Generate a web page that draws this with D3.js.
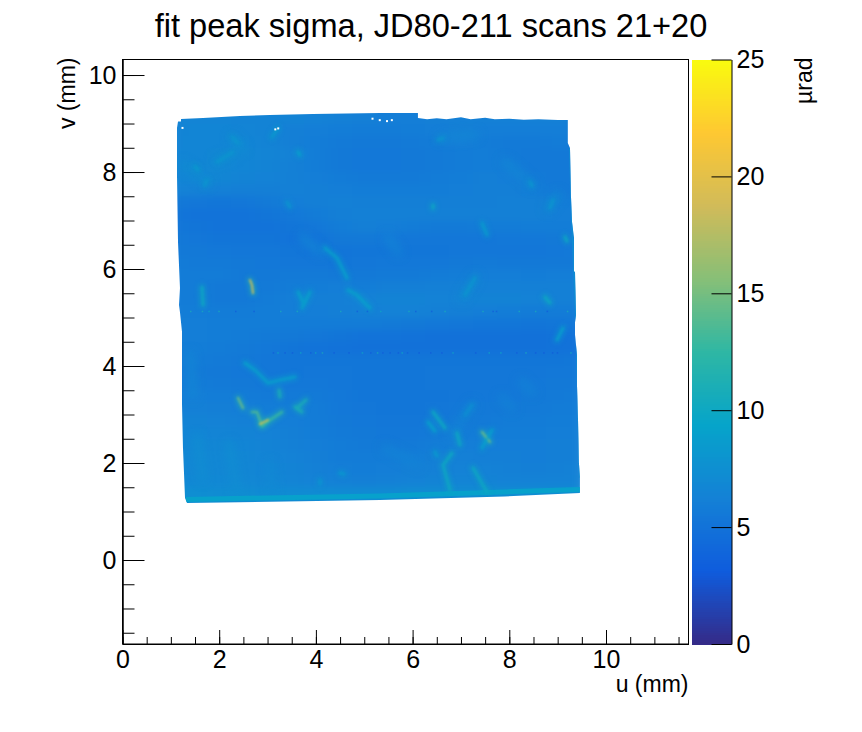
<!DOCTYPE html>
<html>
<head>
<meta charset="utf-8">
<script src="https://cdn.jsdelivr.net/npm/d3@7"></script>
<style>
  html, body { margin: 0; background: #fff; }
  text { font-family: "Liberation Sans", Arial, sans-serif; fill: #000; }
  .tick text { font-size: 25px; }
</style>
</head>
<body>
<div id="chart"></div>
<script>
// background level of the map in urad, one row per v, one column per u
const gridU = [1, 1.5, 2, 2.5, 3, 3.5, 4, 4.5, 5, 5.5, 6, 6.5, 7, 7.5, 8, 8.5, 9, 9.5];
const gridV = [9.375, 9.125, 8.875, 8.625, 8.375, 8.125, 7.875, 7.625, 7.375, 7.125, 6.875, 6.625, 6.375, 6.125, 5.875, 5.625, 5.375, 5.125, 4.875, 4.625, 4.375, 4.125, 3.875, 3.625, 3.375, 3.125, 2.875, 2.625, 2.375, 2.125, 1.875, 1.625, 1.375, 1.125];
const gridValues = [
  [6.4, 6.4, 6.4, 6.3, 6.3, 6.3, 6.2, 6.2, 6.2, 6.1, 6.1, 6.1, 6.1, 6.1, 6.1, 6.1, 6.1, 6.1],
  [6.4, 6.5, 6.5, 6.4, 6.4, 6.4, 6.3, 6.2, 6.1, 6.0, 6.0, 6.1, 6.2, 6.2, 6.2, 6.2, 6.2, 6.2],
  [6.4, 6.6, 6.6, 6.5, 6.4, 6.1, 6.0, 5.9, 5.8, 5.8, 5.9, 6.0, 6.1, 6.0, 6.0, 6.0, 6.0, 6.0],
  [6.5, 6.6, 6.6, 6.6, 6.4, 6.1, 5.9, 5.7, 5.6, 5.6, 5.7, 5.8, 6.0, 5.8, 5.7, 5.7, 5.8, 5.8],
  [6.6, 6.6, 6.7, 6.7, 6.5, 6.3, 5.9, 5.6, 5.5, 5.5, 5.6, 5.7, 5.8, 5.9, 5.7, 5.6, 5.6, 5.6],
  [6.6, 6.7, 6.8, 6.6, 6.4, 6.2, 5.9, 5.6, 5.5, 5.5, 5.6, 5.7, 5.8, 5.9, 5.8, 5.6, 5.6, 5.7],
  [6.6, 6.6, 6.7, 6.4, 6.3, 6.2, 6.0, 5.8, 5.7, 5.7, 5.7, 5.8, 5.9, 6.1, 6.0, 5.7, 5.6, 5.7],
  [6.3, 6.3, 6.2, 6.1, 6.1, 6.2, 6.1, 6.0, 5.9, 5.9, 5.9, 5.9, 6.0, 6.1, 6.1, 5.9, 5.6, 5.7],
  [5.6, 5.4, 5.3, 5.4, 5.7, 6.0, 6.1, 6.2, 6.1, 6.1, 6.1, 6.1, 6.1, 6.1, 6.2, 6.2, 5.8, 5.8],
  [5.3, 5.1, 5.1, 5.1, 5.2, 5.5, 5.8, 6.1, 6.2, 6.2, 6.2, 6.2, 6.2, 6.2, 6.2, 6.2, 6.0, 6.0],
  [5.4, 5.2, 5.1, 5.1, 5.1, 5.2, 5.4, 5.9, 6.1, 6.0, 5.8, 5.7, 5.7, 5.8, 5.8, 5.9, 5.9, 5.9],
  [5.6, 5.4, 5.2, 5.2, 5.2, 5.1, 5.1, 5.6, 5.6, 5.5, 5.4, 5.4, 5.4, 5.4, 5.5, 5.5, 5.6, 5.8],
  [5.7, 5.6, 5.5, 5.4, 5.4, 5.3, 5.1, 5.2, 5.3, 5.3, 5.3, 5.3, 5.4, 5.4, 5.4, 5.4, 5.5, 5.7],
  [5.8, 5.7, 5.7, 5.6, 5.5, 5.4, 5.4, 5.3, 5.4, 5.5, 5.5, 5.5, 5.6, 5.7, 5.6, 5.6, 5.6, 5.7],
  [5.9, 5.8, 5.8, 5.6, 5.6, 5.7, 5.7, 5.6, 5.6, 5.7, 5.7, 5.8, 5.9, 6.0, 6.0, 5.9, 6.0, 6.1],
  [5.9, 5.8, 5.6, 5.6, 5.7, 5.8, 5.9, 6.0, 5.9, 6.1, 6.1, 6.2, 6.2, 6.2, 6.2, 6.2, 6.2, 6.2],
  [5.9, 5.8, 5.6, 5.6, 5.8, 6.0, 6.1, 6.1, 6.3, 6.4, 6.4, 6.3, 6.3, 6.4, 6.4, 6.3, 6.2, 6.2],
  [6.0, 5.9, 5.8, 5.8, 5.9, 6.0, 6.0, 6.1, 6.2, 6.3, 6.3, 6.2, 6.1, 6.0, 5.9, 5.8, 5.8, 5.9],
  [6.0, 6.0, 5.9, 5.9, 5.9, 5.8, 5.8, 5.8, 5.8, 5.7, 5.6, 5.5, 5.4, 5.3, 5.3, 5.2, 5.3, 5.5],
  [6.0, 6.0, 5.9, 5.8, 5.7, 5.6, 5.4, 5.2, 5.1, 5.1, 5.0, 4.9, 4.9, 4.9, 4.9, 4.9, 5.0, 5.1],
  [5.9, 5.9, 5.8, 5.7, 5.5, 5.2, 5.1, 5.0, 4.9, 4.9, 4.9, 4.9, 4.9, 4.9, 4.9, 4.9, 5.0, 5.1],
  [5.8, 5.8, 5.7, 5.6, 5.4, 5.3, 5.3, 5.3, 5.3, 5.3, 5.3, 5.3, 5.3, 5.3, 5.3, 5.3, 5.3, 5.5],
  [5.8, 5.7, 5.6, 5.5, 5.4, 5.3, 5.4, 5.4, 5.3, 5.3, 5.3, 5.4, 5.4, 5.4, 5.4, 5.4, 5.5, 5.6],
  [5.9, 5.8, 5.7, 5.6, 5.5, 5.5, 5.5, 5.4, 5.3, 5.3, 5.3, 5.4, 5.4, 5.4, 5.4, 5.5, 5.6, 5.7],
  [6.0, 6.0, 5.9, 5.8, 5.7, 5.7, 5.7, 5.5, 5.3, 5.3, 5.3, 5.3, 5.4, 5.5, 5.5, 5.6, 5.7, 5.8],
  [6.2, 6.2, 6.1, 6.0, 5.9, 5.8, 5.8, 5.5, 5.4, 5.3, 5.3, 5.4, 5.5, 5.6, 5.6, 5.7, 5.8, 5.9],
  [6.4, 6.4, 6.3, 6.2, 6.1, 6.0, 5.8, 5.6, 5.5, 5.4, 5.4, 5.5, 5.6, 5.7, 5.8, 5.8, 5.9, 6.0],
  [6.6, 6.6, 6.5, 6.4, 6.3, 6.1, 5.9, 5.7, 5.6, 5.5, 5.5, 5.7, 5.8, 5.8, 5.9, 5.9, 6.0, 6.1],
  [6.7, 6.7, 6.7, 6.6, 6.4, 6.2, 6.0, 5.8, 5.7, 5.6, 5.7, 5.9, 6.0, 6.0, 6.0, 6.0, 6.1, 6.1],
  [6.8, 6.8, 6.8, 6.7, 6.5, 6.3, 6.1, 5.8, 5.8, 5.8, 5.9, 6.1, 6.2, 6.1, 6.1, 6.0, 6.1, 6.2],
  [6.8, 6.8, 6.8, 6.7, 6.6, 6.4, 6.2, 6.0, 5.9, 6.0, 6.1, 6.2, 6.3, 6.3, 6.2, 6.1, 6.2, 6.3],
  [6.9, 6.9, 6.9, 6.8, 6.7, 6.5, 6.3, 6.2, 6.1, 6.2, 6.3, 6.4, 6.5, 6.4, 6.3, 6.3, 6.3, 6.4],
  [7.4, 7.4, 7.2, 7.2, 7.1, 7.1, 7.1, 7.1, 7.1, 7.1, 7.2, 7.2, 7.2, 7.2, 7.2, 7.2, 7.2, 7.2],
  [7.4, 7.4, 7.2, 7.2, 7.1, 7.1, 7.1, 7.1, 7.1, 7.1, 7.2, 7.2, 7.2, 7.2, 7.2, 7.2, 7.2, 7.2]
];

// edge of the scanned area as [u, v]
const outline = [
  [1.148, 9.04], [1.21, 9.04], [1.21, 9.093], [1.665, 9.113], [2.43, 9.155], [3.05, 9.175], [3.94, 9.196], [5.326, 9.216], [6.11, 9.216],
  [6.11, 9.113], [6.3, 9.09], [6.5, 9.11], [6.7, 9.09], [7.0, 9.13], [7.2, 9.09], [7.5, 9.12], [7.7, 9.09], [8.0, 9.10], [8.3, 9.08], [8.6, 9.09], [9.0, 9.07], [9.21, 9.072],
  [9.21, 8.6], [9.255, 8.495], [9.275, 7.5], [9.297, 6.969], [9.338, 6.639], [9.338, 5.95], [9.359, 5.938], [9.38, 5.052],
  [9.359, 4.9], [9.359, 4.639], [9.40, 4.227], [9.40, 3.6], [9.42, 2.928], [9.44, 2.0], [9.46, 1.7], [9.46, 1.38], [7.9, 1.309], [5.326, 1.237], [1.334, 1.175],
  [1.293, 1.278], [1.251, 2.309], [1.231, 3.196], [1.231, 4.70], [1.19, 5.1], [1.169, 5.258], [1.189, 5.608], [1.148, 6.557], [1.127, 7.938], [1.127, 8.907]
];

// narrow bright ridges: points as [u, v] and the level along them
const ridgePoints = [
  [[2.265, 8.722], [2.389, 8.598]],
  [[2.285, 8.412], [1.954, 8.206]],
  [[1.5, 8.113], [1.56, 8.05]],
  [[1.748, 7.835], [1.7, 7.72]],
  [[3.216, 8.907], [3.092, 8.722]],
  [[3.63, 8.412], [3.671, 8.351]],
  [[2.637, 5.773], [2.678, 5.67], [2.699, 5.505]],
  [[1.644, 5.629], [1.665, 5.258]],
  [[4.188, 6.433], [4.436, 6.227], [4.643, 5.814]],
  [[3.63, 5.526], [3.733, 5.32]],
  [[3.878, 5.526], [3.712, 5.196]],
  [[4.664, 5.567], [4.85, 5.464], [5.119, 5.196]],
  [[3.402, 7.381], [3.464, 7.278]],
  [[6.422, 7.32], [6.422, 7.258]],
  [[7.435, 6.948], [7.539, 6.701]],
  [[8.904, 7.423], [8.841, 7.258]],
  [[8.428, 7.794], [8.47, 7.711]],
  [[9.152, 6.66], [9.193, 6.577]],
  [[8.738, 5.423], [8.841, 5.299]],
  [[7.29, 5.814], [7.084, 5.464]],
  [[6.629, 8.701], [6.525, 8.66]],
  [[2.534, 4.062], [2.74, 3.918], [3.009, 3.649], [3.257, 3.711], [3.568, 3.773]],
  [[3.237, 3.505], [3.257, 3.361]],
  [[2.389, 3.34], [2.492, 3.134]],
  [[2.678, 3.052], [2.782, 3.052], [2.885, 2.763]],
  [[2.885, 2.763], [3.051, 2.887], [3.299, 3.052]],
  [[2.844, 2.804], [3.01, 2.887]],
  [[3.568, 3.155], [3.712, 3.052]],
  [[3.795, 3.299], [3.63, 3.155]],
  [[4.498, 1.794], [4.581, 1.773]],
  [[4.085, 1.649], [4.085, 1.567]],
  [[6.422, 3.052], [6.67, 2.722]],
  [[6.318, 2.845], [6.463, 2.66]],
  [[6.918, 2.619], [6.98, 2.371]],
  [[7.435, 2.639], [7.6, 2.433]],
  [[7.642, 2.68], [7.435, 2.309]],
  [[6.815, 2.206], [6.629, 1.959], [6.774, 1.443]],
  [[7.25, 1.897], [7.539, 1.402]],
  [[7.229, 3.196], [7.084, 2.99]],
  [[6.463, 2.227], [6.505, 2.144]],
  [[9.11, 4.784], [8.986, 4.536]]
];
const ridgeLevels = [8, 8, 8.5, 8, 8.5, 9, 20, 10, 9, 9, 9, 9, 8, 10, 8.5, 8, 8, 10, 10, 8, 8, 9, 11, 15, 14, 13, 20, 11, 11, 8.5, 8, 10, 9, 10, 15, 9, 10, 10, 7.5, 8.5, 9];

// broad faint patches over the background
const faintPoints = [
  [[1.251, 8.144], [1.748, 7.794]],
  [[1.954, 8.247], [2.285, 8.351]],
  [[2.285, 8.701], [2.472, 8.495]],
  [[3.733, 6.639], [4.085, 6.351]],
  [[1.396, 4.227], [1.458, 3.402]],
  [[1.541, 2.515], [1.665, 1.691]],
  [[2.223, 2.371], [2.368, 1.402]],
  [[3.051, 1.959], [3.113, 1.402]],
  [[5.429, 2.309], [6.112, 1.959]],
  [[7.229, 3.196], [6.815, 2.577]],
  [[8.263, 3.67], [8.47, 3.464]],
  [[7.849, 3.34], [8.056, 3.134]],
  [[6.608, 8.701], [7.29, 8.763]],
  [[7.911, 8.206], [8.47, 7.732]],
  [[8.799, 7.258], [9.006, 7.526]],
  [[5.491, 6.639], [5.698, 6.351]],
  [[7.29, 5.814], [7.022, 5.402]]
];
const faintLevels = [7.2, 7.2, 7.4, 6.8, 6.8, 7.4, 7.4, 7.0, 6.6, 6.6, 6.4, 6.4, 6.8, 6.8, 7.0, 6.6, 7.0];

// brighter strip along the lower edge and thin rim on the right edge
const stripPoints = [[1.313, 1.25], [5.326, 1.32], [9.462, 1.455]];
const stripLevel = 9.4;
const rimPoints = [[9.255, 8.495], [9.297, 6.969], [9.38, 5.052], [9.40, 4.227], [9.46, 1.7]];
const rimLevel = 7.6;

// isolated odd pixels along the two stitch rows
const dotRowV = [4.285, 5.14];
const dotU = [
  [3.106, 3.2, 3.347, 3.5, 3.67, 3.878, 3.98, 4.12, 4.36, 4.67, 4.947, 5.12, 5.26, 5.37, 5.52, 5.69, 5.77, 5.88, 6.12, 6.36, 6.59, 6.82, 7.29, 7.57, 7.81, 8.14, 8.33, 8.53, 8.7, 8.88, 8.98, 9.26],
  [1.396, 1.638, 1.775, 1.98, 2.327, 2.706, 3.257, 3.6, 4.498, 4.84, 5.05, 5.326, 5.91, 6.05, 6.38, 6.656, 7.44, 7.65, 7.72, 8.19, 8.53, 8.77, 9.19]
];
const dotLevels = [
  [3, 10, 3, 3, 10, 3, 10, 11, 3, 3, 10, 3, 11, 3, 3, 3, 10, 3, 3, 3, 3, 10, 3, 10, 10, 3, 11, 3, 3, 3, 3, 11],
  [11, 11, 10, 11, 3, 3, 11, 11, 11, 3, 3, 10, 11, 3, 3, 11, 11, 3, 3, 11, 11, 3, 11]
];

// missing pixels inside the outline
const holes = [[3.14, 8.9], [3.2, 8.92], [5.3, 9.09], [5.45, 9.07], [5.55, 9.09], [5.15, 9.12], [1.22, 8.93]];

const uTicks = [0, 2, 4, 6, 8, 10];
const uMinor = d3.range(0, 11.7, 0.5);
const vTicks = [0, 2, 4, 6, 8, 10];
const vMinor = d3.range(-1.5, 10.3, 0.5);
const zTicks = [0, 5, 10, 15, 20, 25];

// ROOT kBird palette
const birdStops = [0, 0.125, 0.25, 0.375, 0.5, 0.625, 0.75, 0.875, 1];
const birdColors = ["#352a87", "#0f5cdd", "#1481d6", "#06a4ca", "#2eb7a4", "#87bf77", "#d1bb59", "#fec832", "#f9fb0e"];

const width = 862, height = 732;
const plot = { left: 122.5, right: 688.5, top: 59.5, bottom: 644 };
const bar = { left: 692, right: 731.5 };

const x = d3.scaleLinear().domain([0, 11.706]).range([plot.left, plot.right]);
const y = d3.scaleLinear().domain([-1.732, 10.32]).range([plot.bottom, plot.top]);
const z = d3.scaleLinear().domain([0, 25]).range([plot.bottom, plot.top]);
const color = d3.scaleLinear()
  .domain(birdStops.map(s => s * 25))
  .range(birdColors)
  .interpolate(d3.interpolateRgb);

const svg = d3.select("#chart")
  .append("svg")
  .attr("width", width)
  .attr("height", height)
  .style("display", "block");

const defs = svg.append("defs");
defs.append("clipPath").attr("id", "scanArea")
  .append("polygon")
  .attr("points", outline.map(d => [x(d[0]), y(d[1])].join(",")).join(" "));

function blurFilter(id, std) {
  const f = defs.append("filter").attr("id", id)
    .attr("filterUnits", "userSpaceOnUse")
    .attr("x", 0).attr("y", 0).attr("width", width).attr("height", height)
    .attr("color-interpolation-filters", "sRGB");
  f.append("feGaussianBlur").attr("stdDeviation", std);
}
blurFilter("soft", "9 3.5");
blurFilter("halo", 2.6);
blurFilter("wide", 4);
blurFilter("fine", 1);
blurFilter("edge", 0.6);

// map
const map = svg.append("g").attr("clip-path", "url(#scanArea)");
const cells = gridValues.flatMap((row, i) => row.map((value, j) => ({ u: gridU[j], v: gridV[i], value })));
map.append("g").attr("filter", "url(#soft)")
  .selectAll("rect")
  .data(cells)
  .enter()
  .append("rect")
  .attr("x", d => x(d.u - 0.25))
  .attr("y", d => y(d.v + 0.125))
  .attr("width", x(0.5) - x(0))
  .attr("height", y(0) - y(0.25))
  .attr("fill", d => color(d.value))
  .attr("shape-rendering", "crispEdges");

const ridgeLine = d3.line().x(d => x(d[0])).y(d => y(d[1]));

map.append("g").attr("filter", "url(#wide)")
  .selectAll("path")
  .data(faintPoints)
  .enter()
  .append("path")
  .attr("d", ridgeLine)
  .attr("fill", "none")
  .attr("stroke", (d, i) => color(faintLevels[i]))
  .attr("stroke-linecap", "round")
  .attr("stroke-width", 9)
  .attr("stroke-opacity", 0.7);

map.append("path")
  .attr("d", ridgeLine(stripPoints))
  .attr("filter", "url(#edge)")
  .attr("fill", "none")
  .attr("stroke", color(stripLevel))
  .attr("stroke-width", 5)
  .attr("stroke-opacity", 0.85);

map.append("path")
  .attr("d", ridgeLine(rimPoints))
  .attr("filter", "url(#edge)")
  .attr("fill", "none")
  .attr("stroke", color(rimLevel))
  .attr("stroke-width", 2)
  .attr("stroke-opacity", 0.7);

map.append("g").attr("filter", "url(#halo)")
  .selectAll("path")
  .data(ridgePoints)
  .enter()
  .append("path")
  .attr("d", ridgeLine)
  .attr("fill", "none")
  .attr("stroke", (d, i) => color(Math.min(ridgeLevels[i], 12)))
  .attr("stroke-linecap", "round")
  .attr("stroke-width", 6)
  .attr("stroke-opacity", 0.6);

map.append("g").attr("filter", "url(#fine)")
  .selectAll("path")
  .data(ridgePoints)
  .enter()
  .append("path")
  .attr("d", ridgeLine)
  .attr("fill", "none")
  .attr("stroke", (d, i) => color(ridgeLevels[i]))
  .attr("stroke-linecap", "round")
  .attr("stroke-width", 2.2)
  .attr("stroke-opacity", 0.75);

const dots = dotU.flatMap((row, i) => row.map((u, j) => ({ u, v: dotRowV[i], value: dotLevels[i][j] })));
map.append("g")
  .selectAll("rect")
  .data(dots)
  .enter()
  .append("rect")
  .attr("x", d => x(d.u))
  .attr("y", d => y(d.v))
  .attr("width", 1.5)
  .attr("height", 1.5)
  .attr("fill", d => color(d.value))
  .attr("fill-opacity", 0.7);

map.append("g")
  .selectAll("rect")
  .data(holes)
  .enter()
  .append("rect")
  .attr("x", d => x(d[0]))
  .attr("y", d => y(d[1]))
  .attr("width", 2)
  .attr("height", 2)
  .attr("fill", "#fff");

// frame
svg.append("rect")
  .attr("x", plot.left)
  .attr("y", plot.top)
  .attr("width", plot.right - plot.left)
  .attr("height", plot.bottom - plot.top)
  .attr("fill", "none")
  .attr("stroke", "#000");

function styleAxis(g) {
  g.selectAll("path, line").attr("stroke", "#000");
  g.selectAll("text").attr("fill", "#000");
}

svg.append("g")
  .attr("transform", `translate(0,${plot.bottom})`)
  .call(d3.axisBottom(x).tickValues(uMinor).tickFormat("").tickSize(-7).tickSizeOuter(0))
  .call(styleAxis);
svg.append("g")
  .attr("transform", `translate(0,${plot.bottom})`)
  .call(d3.axisBottom(x).tickValues(uTicks).tickFormat(d3.format("d")).tickSize(-14).tickSizeOuter(0).tickPadding(6))
  .call(styleAxis);

svg.append("g")
  .attr("transform", `translate(${plot.left},0)`)
  .call(d3.axisLeft(y).tickValues(vMinor).tickFormat("").tickSize(-12).tickSizeOuter(0))
  .call(styleAxis);
svg.append("g")
  .attr("transform", `translate(${plot.left},0)`)
  .call(d3.axisLeft(y).tickValues(vTicks).tickFormat(d3.format("d")).tickSize(-22).tickSizeOuter(0).tickPadding(6))
  .call(styleAxis);

// colour bar
const barLevels = d3.range(0, 25, 25 / 255);
svg.append("g")
  .selectAll("rect")
  .data(barLevels)
  .enter()
  .append("rect")
  .attr("x", bar.left)
  .attr("y", d => z(d + 25 / 255))
  .attr("width", bar.right - bar.left)
  .attr("height", z(0) - z(25 / 255) + 0.5)
  .attr("fill", d => color(d + 12.5 / 255))
  .attr("shape-rendering", "crispEdges");

svg.append("g")
  .attr("transform", `translate(${bar.right},0)`)
  .call(d3.axisRight(z).tickValues(zTicks).tickFormat(d3.format("d")).tickSize(-20).tickSizeOuter(0).tickPadding(5))
  .call(styleAxis);

// titles
svg.append("text")
  .attr("x", 431)
  .attr("y", 37)
  .attr("text-anchor", "middle")
  .style("font-size", "32.6px")
  .text("fit peak sigma, JD80-211 scans 21+20");

svg.append("text")
  .attr("x", plot.right)
  .attr("y", 692)
  .attr("text-anchor", "end")
  .style("font-size", "23px")
  .text("u (mm)");

svg.append("text")
  .attr("transform", `translate(75,${plot.top - 2}) rotate(-90)`)
  .attr("text-anchor", "end")
  .style("font-size", "23px")
  .text("v (mm)");

svg.append("text")
  .attr("transform", `translate(812,${plot.top - 2}) rotate(-90)`)
  .attr("text-anchor", "end")
  .style("font-size", "23px")
  .text("µrad");
</script>
</body>
</html>
